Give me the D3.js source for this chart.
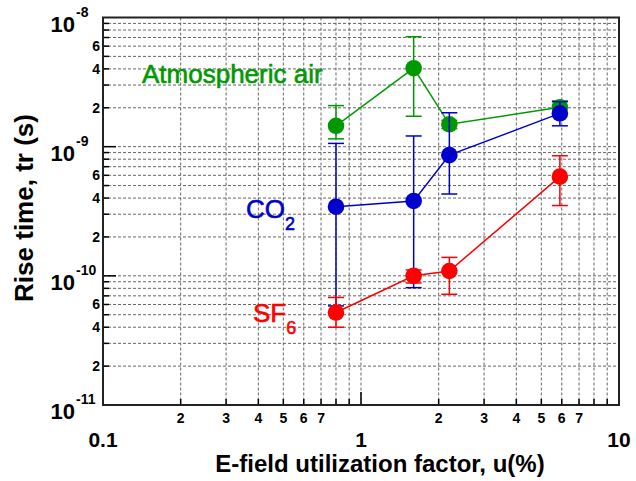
<!DOCTYPE html>
<html>
<head>
<meta charset="utf-8">
<script src="https://cdn.jsdelivr.net/npm/d3@7"></script>
<style>
  body { margin: 0; background: #fff; }
  svg text { font-family: "Liberation Sans", Arial, sans-serif; }
</style>
</head>
<body>
<script>
var settings = {
  width: 636,
  height: 481,
  left: 103,
  right: 619,
  top: 17.5,
  bottom: 405
}

// E-field utilization factor u (%)
var uValues = [0.8, 1.6, 2.2, 5.9];

// rise time (s): value, lower and upper error
var airRise = [1.45e-9, 4.05e-9, 1.49e-9, 2.02e-9];
var airLow  = [1.15e-9, 1.72e-9, 1.38e-9, 1.8e-9];
var airHigh = [2.08e-9, 7.1e-9, 1.6e-9, 2.26e-9];

var co2Rise = [3.43e-10, 3.8e-10, 8.6e-10, 1.81e-9];
var co2Low  = [5.85e-11, 8.1e-11, 4.3e-10, 1.45e-9];
var co2High = [1.06e-9, 1.21e-9, 1.83e-9, 2.23e-9];

var sf6Rise = [5.2e-11, 1.0e-10, 1.09e-10, 5.86e-10];
var sf6Low  = [4.0e-11, 8.8e-11, 7.2e-11, 3.5e-10];
var sf6High = [6.8e-11, 1.11e-10, 1.39e-10, 8.5e-10];

var xMajorTicks = [0.1, 1, 10];
var xMajorLabels = ['0.1', '1', '10'];
var xMinorLabels = ['2', '3', '4', '5', '6', '7'];
var yDecades = [-11, -10, -9, -8];
var yMinorLabels = ['2', '4', '6'];

var series = [
  {name: 'Atmospheric air', color: '#009900', rise: airRise, low: airLow, high: airHigh},
  {name: 'CO2', color: '#0000cc', rise: co2Rise, low: co2Low, high: co2High},
  {name: 'SF6', color: '#ff0000', rise: sf6Rise, low: sf6Low, high: sf6High}
];

var x = d3.scaleLog().domain([0.1, 10]).range([settings.left, settings.right]);
var y = d3.scaleLog().domain([1e-11, 1e-8]).range([settings.bottom, settings.top]);

var svg = d3.select('body').append('svg')
  .attr('width', settings.width)
  .attr('height', settings.height);

// grid values: every 1..9 in each decade
var xGrid = [];
[0.1, 1].forEach(function(d){
  for(var k = 1; k <= 9; k++){ xGrid.push(d * k); }
});
xGrid = xGrid.filter(function(v){ return v > 0.1; });

var yGrid = [];
[1e-11, 1e-10, 1e-9].forEach(function(d){
  for(var k = 1; k <= 9; k++){ yGrid.push(d * k); }
});
yGrid = yGrid.filter(function(v){ return v > 1.01e-11; });

svg.append('g').selectAll('line').data(xGrid)
  .enter().append('line')
    .attr('x1', function(d){ return x(d); })
    .attr('x2', function(d){ return x(d); })
    .attr('y1', settings.top)
    .attr('y2', settings.bottom)
    .style('stroke', '#666')
    .style('stroke-width', 1)
    .style('stroke-dasharray', '3,2');

svg.append('g').selectAll('line').data(yGrid)
  .enter().append('line')
    .attr('x1', settings.left)
    .attr('x2', settings.right)
    .attr('y1', function(d){ return y(d); })
    .attr('y2', function(d){ return y(d); })
    .style('stroke', '#666')
    .style('stroke-width', 1)
    .style('stroke-dasharray', '3,2');

// ticks
var isMajor = function(v){
  var l = Math.log10(v);
  return Math.abs(l - Math.round(l)) < 1e-6;
}

svg.append('g').selectAll('line').data(yGrid)
  .enter().append('line')
    .attr('x1', settings.left)
    .attr('x2', function(d){ return settings.left + (isMajor(d) ? 13 : 6); })
    .attr('y1', function(d){ return y(d); })
    .attr('y2', function(d){ return y(d); })
    .style('stroke', '#000')
    .style('stroke-width', 1.5);

svg.append('g').selectAll('line').data(xGrid)
  .enter().append('line')
    .attr('x1', function(d){ return x(d); })
    .attr('x2', function(d){ return x(d); })
    .attr('y1', settings.bottom)
    .attr('y2', function(d){ return settings.bottom - (isMajor(d) ? 13 : 6); })
    .style('stroke', '#000')
    .style('stroke-width', 1.5);

// frame
svg.append('rect')
  .attr('x', settings.left)
  .attr('y', settings.top)
  .attr('width', settings.right - settings.left)
  .attr('height', settings.bottom - settings.top)
  .style('fill', 'none')
  .style('stroke', '#222')
  .style('stroke-width', 2);

// y tick labels
var yLab = svg.append('g').selectAll('text').data(yDecades)
  .enter().append('text')
    .attr('x', 75)
    .attr('y', function(d){ return y(Math.pow(10, d)) + 14; })
    .attr('text-anchor', 'end')
    .style('font-size', '22px')
    .style('font-weight', 'bold');
yLab.append('tspan').text('10');
yLab.append('tspan')
  .attr('x', 76)
  .attr('dy', -15)
  .attr('text-anchor', 'start')
  .style('font-size', '14px')
  .text(function(d){ return d; });

var yMinor = [];
[1e-11, 1e-10, 1e-9].forEach(function(d){
  yMinorLabels.forEach(function(s){ yMinor.push({v: d * (+s), s: s}); });
});
svg.append('g').selectAll('text').data(yMinor)
  .enter().append('text')
    .attr('x', 100)
    .attr('y', function(d){ return y(d.v) + 5; })
    .attr('text-anchor', 'end')
    .style('font-size', '14px')
    .style('font-weight', 'bold')
    .text(function(d){ return d.s; });

// x tick labels
svg.append('g').selectAll('text').data(xMajorTicks)
  .enter().append('text')
    .attr('x', function(d){ return x(d); })
    .attr('y', 447)
    .attr('text-anchor', 'middle')
    .style('font-size', '21px')
    .style('font-weight', 'bold')
    .text(function(d, i){ return xMajorLabels[i]; });

var xMinor = [];
[0.1, 1].forEach(function(d){
  xMinorLabels.forEach(function(s){ xMinor.push({v: d * (+s), s: s}); });
});
svg.append('g').selectAll('text').data(xMinor)
  .enter().append('text')
    .attr('x', function(d){ return x(d.v); })
    .attr('y', 423)
    .attr('text-anchor', 'middle')
    .style('font-size', '14px')
    .style('font-weight', 'bold')
    .text(function(d){ return d.s; });

// axis titles
svg.append('text')
  .attr('transform', 'translate(33,208) rotate(-90)')
  .attr('text-anchor', 'middle')
  .style('font-size', '26px')
  .style('font-weight', 'bold')
  .text('Rise time, tr (s)');

svg.append('text')
  .attr('x', 380)
  .attr('y', 472)
  .attr('text-anchor', 'middle')
  .style('font-size', '24px')
  .style('font-weight', 'bold')
  .text('E-field utilization factor, u(%)');

// series
var line = d3.line()
  .x(function(d){ return x(d.u); })
  .y(function(d){ return y(d.r); });

series.forEach(function(s){
  var pts = uValues.map(function(u, i){
    return {u: u, r: s.rise[i], lo: s.low[i], hi: s.high[i]};
  });
  var g = svg.append('g');

  g.append('path')
    .datum(pts)
    .attr('d', line)
    .style('fill', 'none')
    .style('stroke', s.color)
    .style('stroke-width', 1.5);

  g.selectAll('.bar').data(pts)
    .enter().append('line')
      .attr('x1', function(d){ return x(d.u); })
      .attr('x2', function(d){ return x(d.u); })
      .attr('y1', function(d){ return y(d.lo); })
      .attr('y2', function(d){ return y(d.hi); })
      .style('stroke', s.color)
      .style('stroke-width', 1.5);

  ['lo', 'hi'].forEach(function(k){
    g.selectAll('.cap-' + k).data(pts)
      .enter().append('line')
        .attr('x1', function(d){ return x(d.u) - 8; })
        .attr('x2', function(d){ return x(d.u) + 8; })
        .attr('y1', function(d){ return y(d[k]); })
        .attr('y2', function(d){ return y(d[k]); })
        .style('stroke', s.color)
        .style('stroke-width', 1.5);
  });

  g.selectAll('circle').data(pts)
    .enter().append('circle')
      .attr('cx', function(d){ return x(d.u); })
      .attr('cy', function(d){ return y(d.r); })
      .attr('r', 8.3)
      .attr('fill', s.color);
});

// annotations
svg.append('text')
  .attr('x', 142)
  .attr('y', 83)
  .style('font-size', '26px')
  .style('fill', '#009900')
  .style('stroke', '#009900')
  .style('stroke-width', 0.6)
  .text('Atmospheric air');

var co2 = svg.append('text')
  .attr('x', 246)
  .attr('y', 218)
  .style('font-size', '26px')
  .style('fill', '#0000cc')
  .style('stroke', '#0000cc')
  .style('stroke-width', 0.6);
co2.append('tspan').text('CO');
co2.append('tspan').attr('dy', 12).style('font-size', '18px').text('2');

var sf6 = svg.append('text')
  .attr('x', 253)
  .attr('y', 322)
  .style('font-size', '26px')
  .style('fill', '#ff0000')
  .style('stroke', '#ff0000')
  .style('stroke-width', 0.6);
sf6.append('tspan').text('SF');
sf6.append('tspan').attr('dy', 12).style('font-size', '18px').text('6');
</script>
</body>
</html>
